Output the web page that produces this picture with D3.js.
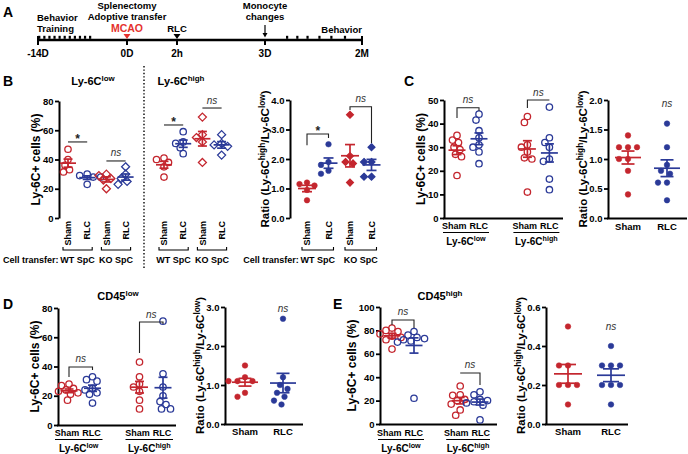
<!DOCTYPE html>
<html><head><meta charset="utf-8">
<script src="https://cdn.jsdelivr.net/npm/d3@7"></script>
<style>
body{margin:0;background:#fff}
svg text{font-family:"Liberation Sans",Arial,Helvetica,sans-serif}
</style></head><body>
<svg id="chart" width="688" height="454"></svg>
<script>
// ================= DATA =================
const RED = "#c4262e", BLUE = "#2b3a98", MCAO_RED = "#e5322d";

// Panel A timeline
const timelineLabels = ["-14D", "0D", "2h", "3D", "2M"];
const timelineDays   = [-14, 0, 0.083, 3, 60];
const trainingDays   = [-13.8, -13, -12.2, -11.4, -10.6, -9.8, -9, -8.2, -7.4, -6.6, -5.8];
const behaviorDays   = [16, 22, 28, 35, 42, 50];

// Panel B (Ly-6C low / high, % cells) — WT SpC and KO SpC transfer
const bCategories = ["Sham", "RLC", "Sham", "RLC", "Sham", "RLC", "Sham", "RLC"];
const bTransfer   = ["WT SpC", "KO SpC", "WT SpC", "KO SpC"];
const bLowWTSham  = [47, 40, 36, 33, 31.5];
const bLowWTRLC   = [30, 29, 28, 28, 23];
const bLowKOSham  = [30, 29, 27, 26, 20];
const bLowKORLC   = [35, 30, 27, 25, 23];
const bHighWTSham = [41, 40, 38, 35, 28];
const bHighWTRLC  = [59, 52, 51, 48, 44];
const bHighKOSham = [69, 57, 55, 52, 38];
const bHighKORLC  = [57, 51, 50, 49, 43];
const bRatioWTSham = [1.2, 1.15, 1.1, 0.95, 0.6];
const bRatioWTRLC  = [2.5, 1.9, 1.8, 1.6, 1.5];
const bRatioKOSham = [3.5, 2.1, 1.9, 1.85, 1.2];
const bRatioKORLC  = [2.4, 1.9, 1.9, 1.4, 1.4];
const bSig      = ["*", "ns", "*", "ns"];
const bRatioSig = ["*", "ns"];

// Panel C
const pairCategories = ["Sham", "RLC"];
const cLowSham   = [35, 33, 32, 30, 29, 27, 26, 18];
const cLowRLC    = [44, 41.5, 37, 34, 31, 30, 28, 23];
const cHighSham  = [43, 40.5, 31, 30, 28, 25.5, 25, 11];
const cHighRLC   = [47, 34, 32, 30, 25, 24, 16.5, 12];
const cRatioSham = [1.4, 1.2, 1.2, 1.2, 1.0, 1.0, 0.8, 0.4];
const cRatioRLC  = [1.6, 1.2, 0.9, 0.8, 0.75, 0.6, 0.6, 0.3];

// Panel D (CD45 low)
const dLowSham   = [28, 27, 25, 24, 23, 22, 21, 17];
const dLowRLC    = [33, 31, 30, 25, 24, 22, 21, 15];
const dHighSham  = [43, 33, 28, 26, 23, 17, 11];
const dHighRLC   = [71, 35, 26, 20, 16, 14, 11, 11];
const dRatioSham = [1.5, 1.2, 1.1, 1.1, 1.1, 0.8, 0.7];
const dRatioRLC  = [2.7, 1.2, 1.0, 0.9, 0.8, 0.7, 0.6, 0.5];

// Panel E (CD45 high)
const eLowSham   = [82, 80, 79, 77, 75, 74, 72, 64];
const eLowRLC    = [79, 76, 74, 73, 72, 71, 70, 22];
const eHighSham  = [32.5, 25, 24.5, 21, 20, 17, 12, 7.5];
const eHighRLC   = [27.5, 25, 21, 20, 19, 18, 16, 3.5];
const eRatioSham = [0.5, 0.3, 0.3, 0.2, 0.2, 0.2, 0.1];
const eRatioRLC  = [0.4, 0.3, 0.3, 0.3, 0.2, 0.2, 0.2, 0.1];

// Tick values
const pctTicks80   = [0, 20, 40, 60, 80];
const pctTicks50   = [0, 10, 20, 30, 40, 50];
const pctTicks100  = [0, 20, 40, 60, 80, 100];
const ratioTicks4  = [0, 1, 2, 3, 4];
const ratioTicks2  = [0, 0.5, 1, 1.5, 2];
const ratioTicks3  = [0, 1, 2, 3];
const ratioTicks06 = [0, 0.2, 0.4, 0.6];

// ================= DRAWING =================
const svg = d3.select("#chart");
const FONT = "Liberation Sans, Arial, sans-serif";

function txt(g, x, y, s, o = {}) {
  const t = g.append("text").attr("x", x).attr("y", y).text(s)
    .attr("font-size", o.size || 10).attr("font-weight", o.weight || "bold")
    .attr("text-anchor", o.anchor || "start").attr("fill", o.fill || "#000")
    .attr("font-family", o.family || FONT);
  if (o.italic) t.attr("font-style", "italic");
  return t;
}
// rich text: parts = [[string, isSup]]
function rich(g, x, y, parts, size, anchor, rotate) {
  const t = g.append("text").attr("font-size", size).attr("font-weight", "bold")
    .attr("text-anchor", anchor || "middle").attr("fill", "#000").attr("font-family", FONT);
  if (rotate) t.attr("transform", `translate(${x},${y}) rotate(-90)`);
  else t.attr("x", x).attr("y", y);
  let prevSup = false;
  parts.forEach(([s, sup]) => {
    const sp = t.append("tspan").text(s);
    if (sup) sp.attr("font-size", size * 0.72).attr("dy", -size * 0.38);
    else if (prevSup) sp.attr("dy", size * 0.38);
    prevSup = sup;
  });
  return t;
}
const ratioLabel = [["Ratio (Ly-6C", false], ["high", true], ["/Ly-6C", false], ["low", true], [")", false]];
const pctLabel = [["Ly-6C+ cells (%)", false]];

function swarm(vals, y, cx, minD, step) {
  const pts = vals.map(v => ({ v, py: y(v) })).sort((a, b) => b.v - a.v);
  const placed = [];
  pts.forEach(p => {
    for (let k = 0; k < 60; k++) {
      const off = k === 0 ? 0 : (k % 2 === 1 ? -1 : 1) * Math.ceil(k / 2) * step;
      const px = cx + off;
      if (placed.every(q => Math.hypot(q.px - px, q.py - p.py) >= minD)) { p.px = px; break; }
    }
    placed.push(p);
  });
  return placed;
}

function mark(g, x, y, s) {
  if (s.shape === "diamond") {
    const r = s.filled ? 3.4 : 4;
    g.append("path").attr("d", `M${x},${y - r}L${x + r},${y}L${x},${y + r}L${x - r},${y}Z`)
      .attr("fill", s.filled ? s.color : "none").attr("stroke", s.color).attr("stroke-width", 1.3);
  } else {
    g.append("circle").attr("cx", x).attr("cy", y).attr("r", s.filled ? 2.8 : 3.2)
      .attr("fill", s.filled ? s.color : "none").attr("stroke", s.color).attr("stroke-width", s.filled ? 0.5 : 1.3);
  }
}

function panel(cfg) {
  const g = svg.append("g");
  const y = d3.scaleLinear().domain(cfg.domain).range(cfg.yRange);
  const xs = d3.scaleLinear().domain([0, 1]).range([cfg.firstX, cfg.firstX + cfg.unit]);
  const gx = i => xs(cfg.slots[i]);
  const ax = g.append("g").attr("transform", `translate(${cfg.axisX},0)`)
    .call(d3.axisLeft(y).tickValues(cfg.ticks).tickFormat(cfg.fmt).tickSize(4).tickSizeOuter(0));
  ax.select(".domain").attr("stroke", "#000").attr("stroke-width", 2);
  ax.selectAll(".tick line").attr("stroke", "#000").attr("stroke-width", 1.8);
  ax.selectAll(".tick text").attr("font-size", 9.5).attr("font-weight", "bold")
    .attr("font-family", FONT).attr("fill", "#000").attr("x", -5.5);
  if (cfg.baselineTo) {
    g.append("line").attr("x1", cfg.axisX - 1).attr("x2", cfg.baselineTo)
      .attr("y1", y(cfg.domain[0]) + 0.5).attr("y2", y(cfg.domain[0]) + 0.5)
      .attr("stroke", "#000").attr("stroke-width", 2);
  }
  cfg.series.forEach((s, i) => {
    const cx = gx(i);
    const pts = swarm(s.values, y, cx, cfg.minD, 1.5);
    pts.forEach(p => mark(g, p.px, p.py, s));
    const m = d3.mean(s.values), se = d3.deviation(s.values) / Math.sqrt(s.values.length);
    const lw = 1.7;
    g.append("line").attr("x1", cx - cfg.meanHalf).attr("x2", cx + cfg.meanHalf)
      .attr("y1", y(m)).attr("y2", y(m)).attr("stroke", s.color).attr("stroke-width", lw);
    g.append("line").attr("x1", cx).attr("x2", cx).attr("y1", y(m - se)).attr("y2", y(m + se))
      .attr("stroke", s.color).attr("stroke-width", lw);
    [m - se, m + se].forEach(v => g.append("line").attr("x1", cx - cfg.semHalf).attr("x2", cx + cfg.semHalf)
      .attr("y1", y(v)).attr("y2", y(v)).attr("stroke", s.color).attr("stroke-width", lw));
  });
  (cfg.brackets || []).forEach(b => {
    const x1 = gx(b.from), x2 = gx(b.to), yy = y(b.at);
    const path = `M${x1},${y(b.leftTo)}V${yy}H${x2}V${y(b.rightTo)}`;
    g.append("path").attr("d", path).attr("fill", "none").attr("stroke", "#222").attr("stroke-width", 1.1);
    const mx = (x1 + x2) / 2;
    if (b.label === "*") txt(g, mx, yy + 1, "*", { size: 12, anchor: "middle", fill: "#222" });
    else txt(g, mx, yy - 4.5, b.label, { size: 10, anchor: "middle", italic: true, weight: "normal", fill: "#333" });
  });
  (cfg.notes || []).forEach(n => {
    txt(g, gx(n.at), y(n.v), n.label, { size: 10, anchor: "middle", italic: true, weight: "normal", fill: "#333" });
  });
  const cy = (cfg.yRange[0] + cfg.yRange[1]) / 2;
  rich(g, cfg.axisX - cfg.titleGap, cy, cfg.title, cfg.title === ratioLabel ? 11.5 : 12, "middle", true);
  cfg.gx = gx; cfg.y = y; cfg.g = g;
  return cfg;
}

// ---------- Panel A: timeline ----------
(function () {
  const g = svg.append("g");
  const tl = d3.scaleLinear().domain(timelineDays).range([38, 127, 177, 265, 362]);
  const ly = 40;
  const NARROW = "Liberation Sans Narrow, Liberation Sans, Arial, sans-serif";
  txt(g, 3, 17, "A", { size: 14 });
  g.append("line").attr("x1", tl(-14)).attr("x2", tl(60)).attr("y1", ly).attr("y2", ly)
    .attr("stroke", "#000").attr("stroke-width", 2.6);
  timelineDays.forEach((d, i) => {
    const end = i === 0 || i === timelineDays.length - 1;
    g.append("line").attr("x1", tl(d)).attr("x2", tl(d)).attr("y1", end ? ly - 4 : ly).attr("y2", ly + 5)
      .attr("stroke", "#000").attr("stroke-width", 2);
    txt(g, tl(d), 57, timelineLabels[i], { size: 10, anchor: "middle", family: NARROW });
  });
  trainingDays.concat(behaviorDays).forEach(d => {
    g.append("rect").attr("x", tl(d) - 1.1).attr("y", ly - 4.2).attr("width", 2.2).attr("height", 3).attr("fill", "#000");
  });
  txt(g, 37, 21, "Behavior", { size: 9.5, family: NARROW });
  txt(g, 37, 32, "Training", { size: 9.5, family: NARROW });
  txt(g, tl(0), 9, "Splenectomy", { size: 9.5, anchor: "middle", family: NARROW });
  txt(g, tl(0), 19.5, "Adoptive transfer", { size: 9.5, anchor: "middle", family: NARROW });
  txt(g, tl(0), 32, "MCAO", { size: 10.5, anchor: "middle", fill: MCAO_RED, family: NARROW });
  g.append("path").attr("d", `M${tl(0) - 3.5},${34}L${tl(0) + 3.5},${34}L${tl(0)},${39}Z`).attr("fill", MCAO_RED);
  txt(g, tl(0.083), 32, "RLC", { size: 9.5, anchor: "middle", family: NARROW });
  g.append("path").attr("d", `M${tl(0.083) - 3.5},${34}L${tl(0.083) + 3.5},${34}L${tl(0.083)},${39}Z`).attr("fill", "#000");
  txt(g, tl(3), 9, "Monocyte", { size: 9.5, anchor: "middle", family: NARROW });
  txt(g, tl(3), 19.5, "changes", { size: 9.5, anchor: "middle", family: NARROW });
  g.append("line").attr("x1", tl(3)).attr("x2", tl(3)).attr("y1", 25).attr("y2", 34).attr("stroke", "#000").attr("stroke-width", 1.2);
  g.append("path").attr("d", `M${tl(3) - 2.5},${33}L${tl(3) + 2.5},${33}L${tl(3)},${37.5}Z`).attr("fill", "#000");
  txt(g, tl(60), 33, "Behavior", { size: 9.5, anchor: "end", family: NARROW });
})();

// ---------- Panel B ----------
const bLeft = panel({
  axisX: 59, domain: [0, 80], yRange: [218, 101], ticks: pctTicks80, fmt: d3.format("d"),
  title: pctLabel, titleGap: 19,
  firstX: 68, unit: 19.2, slots: [0, 1, 2, 3, 5, 6, 7, 8], minD: 6.2, meanHalf: 8, semHalf: 4.5,
  series: [
    { values: bLowWTSham, color: RED, shape: "circle" },
    { values: bLowWTRLC, color: BLUE, shape: "circle" },
    { values: bLowKOSham, color: RED, shape: "diamond" },
    { values: bLowKORLC, color: BLUE, shape: "diamond" },
    { values: bHighWTSham, color: RED, shape: "circle" },
    { values: bHighWTRLC, color: BLUE, shape: "circle" },
    { values: bHighKOSham, color: RED, shape: "diamond" },
    { values: bHighKORLC, color: BLUE, shape: "diamond" }
  ],
  brackets: [
    { from: 0, to: 1, at: 52, leftTo: 52, rightTo: 52, label: bSig[0] },
    { from: 2, to: 3, at: 39, leftTo: 39, rightTo: 39, label: bSig[1] },
    { from: 4, to: 5, at: 63.6, leftTo: 63.6, rightTo: 63.6, label: bSig[2] },
    { from: 6, to: 7, at: 75.2, leftTo: 75.2, rightTo: 75.2, label: bSig[3] }
  ]
});
const bRatio = panel({
  axisX: 290, domain: [0, 4], yRange: [218, 100], ticks: ratioTicks4, fmt: d3.format(".1f"),
  title: ratioLabel, titleGap: 21,
  firstX: 307, unit: 21.5, slots: [0, 1, 2, 3], minD: 7.2, meanHalf: 9, semHalf: 5,
  series: [
    { values: bRatioWTSham, color: RED, shape: "circle", filled: true },
    { values: bRatioWTRLC, color: BLUE, shape: "circle", filled: true },
    { values: bRatioKOSham, color: RED, shape: "diamond", filled: true },
    { values: bRatioKORLC, color: BLUE, shape: "diamond", filled: true }
  ],
  brackets: [
    { from: 0, to: 1, at: 2.85, leftTo: 2.47, rightTo: 2.71, label: bRatioSig[0] },
    { from: 2, to: 3, at: 3.77, leftTo: 3.66, rightTo: 2.54, label: bRatioSig[1] }
  ]
});
(function () {
  const g = svg.append("g");
  txt(g, 3, 86, "B", { size: 14 });
  rich(g, 93, 85, [["Ly-6C", false], ["low", true]], 11, "middle");
  rich(g, 181, 85, [["Ly-6C", false], ["high", true]], 11, "middle");
  g.append("line").attr("x1", 144).attr("x2", 144).attr("y1", 66).attr("y2", 270)
    .attr("stroke", "#000").attr("stroke-width", 1.4).attr("stroke-dasharray", "1.4,2");
  [[bLeft, bCategories], [bRatio, bCategories.slice(0, 4)]].forEach(([p, cats]) => {
    cats.forEach((c, i) => {
      g.append("text").attr("transform", `translate(${p.gx(i) + 3.2},221) rotate(-90)`)
        .attr("text-anchor", "end").attr("font-size", 9).attr("font-weight", "bold")
        .attr("font-family", FONT).text(c);
    });
    const npairs = cats.length / 2;
    for (let k = 0; k < npairs; k++) {
      const x1 = p.gx(2 * k) - 5, x2 = p.gx(2 * k + 1) + 5, yy = 250;
      g.append("path").attr("d", `M${x1},${yy - 3}V${yy}H${x2}V${yy - 3}`).attr("fill", "none")
        .attr("stroke", "#000").attr("stroke-width", 1.1);
      txt(g, (x1 + x2) / 2, 263, bTransfer[k], { size: 9, anchor: "middle" });
    }
    txt(g, (p.gx(0) + p.gx(1)) / 2 - 19, 263, "Cell transfer:", { size: 9, anchor: "end" });
  });
})();

// ---------- Panel C ----------
const cLeft = panel({
  axisX: 444, domain: [0, 50], yRange: [218, 100], ticks: pctTicks50, fmt: d3.format("d"),
  title: pctLabel, titleGap: 19,
  firstX: 457, unit: 22, slots: [0, 1, 3.2, 4.2], minD: 6.2, meanHalf: 8.5, semHalf: 4.5, baselineTo: 563,
  series: [
    { values: cLowSham, color: RED }, { values: cLowRLC, color: BLUE },
    { values: cHighSham, color: RED }, { values: cHighRLC, color: BLUE }
  ],
  brackets: [
    { from: 0, to: 1, at: 46.7, leftTo: 42.4, rightTo: 45.3, label: "ns" },
    { from: 2, to: 3, at: 50, leftTo: 46.6, rightTo: 50, label: "ns" }
  ]
});
const cRatio = panel({
  axisX: 608, domain: [0, 2], yRange: [218, 100], ticks: ratioTicks2, fmt: d3.format(".1f"),
  title: ratioLabel, titleGap: 21,
  firstX: 628, unit: 39, slots: [0, 1], minD: 8.3, meanHalf: 13, semHalf: 6.5, baselineTo: 687,
  series: [
    { values: cRatioSham, color: RED, filled: true }, { values: cRatioRLC, color: BLUE, filled: true }
  ],
  notes: [{ at: 1, v: 1.88, label: "ns" }]
});

// ---------- Panel D ----------
const dLeft = panel({
  axisX: 58, domain: [0, 80], yRange: [425, 308], ticks: pctTicks80, fmt: d3.format("d"),
  title: pctLabel, titleGap: 19,
  firstX: 69, unit: 23.5, slots: [0, 1, 3, 4], minD: 6.2, meanHalf: 8.5, semHalf: 4.5, baselineTo: 176,
  series: [
    { values: dLowSham, color: RED }, { values: dLowRLC, color: BLUE },
    { values: dHighSham, color: RED }, { values: dHighRLC, color: BLUE }
  ],
  brackets: [
    { from: 0, to: 1, at: 39.7, leftTo: 32.8, rightTo: 37.6, label: "ns" },
    { from: 2, to: 3, at: 70.4, leftTo: 49.2, rightTo: 69, label: "ns" }
  ]
});
const dRatio = panel({
  axisX: 225, domain: [0, 3], yRange: [424, 307], ticks: ratioTicks3, fmt: d3.format(".1f"),
  title: ratioLabel, titleGap: 21,
  firstX: 245, unit: 38, slots: [0, 1], minD: 8.3, meanHalf: 13, semHalf: 6.5, baselineTo: 303,
  series: [
    { values: dRatioSham, color: RED, filled: true }, { values: dRatioRLC, color: BLUE, filled: true }
  ],
  notes: [{ at: 1, v: 2.88, label: "ns" }]
});

// ---------- Panel E ----------
const eLeft = panel({
  axisX: 380, domain: [0, 100], yRange: [424, 307], ticks: pctTicks100, fmt: d3.format("d"),
  title: pctLabel, titleGap: 24,
  firstX: 392, unit: 22, slots: [0, 1, 3.1, 4], minD: 6.2, meanHalf: 8.5, semHalf: 4.5, baselineTo: 497,
  series: [
    { values: eLowSham, color: RED }, { values: eLowRLC, color: BLUE },
    { values: eHighSham, color: RED }, { values: eHighRLC, color: BLUE }
  ],
  brackets: [
    { from: 0, to: 1, at: 88.9, leftTo: 84.6, rightTo: 82, label: "ns" },
    { from: 2, to: 3, at: 43.6, leftTo: 43.6, rightTo: 33.3, label: "ns" }
  ]
});
const eRatio = panel({
  axisX: 546, domain: [0, 0.6], yRange: [424, 307], ticks: ratioTicks06, fmt: d3.format(".1f"),
  title: ratioLabel, titleGap: 21,
  firstX: 568, unit: 43, slots: [0, 1], minD: 8.8, meanHalf: 14, semHalf: 8, baselineTo: 628,
  series: [
    { values: eRatioSham, color: RED, filled: true }, { values: eRatioRLC, color: BLUE, filled: true }
  ],
  notes: [{ at: 1, v: 0.48, label: "ns" }]
});

// ---------- labels for C, D, E ----------
(function () {
  const g = svg.append("g");
  txt(g, 404, 86, "C", { size: 14 });
  txt(g, 3, 309, "D", { size: 14 });
  txt(g, 333, 309, "E", { size: 14 });
  rich(g, 118, 300, [["CD45", false], ["low", true]], 11, "middle");
  rich(g, 440, 300, [["CD45", false], ["high", true]], 11, "middle");

  const subsets = [["low", true], ["high", true]];
  [[cLeft, 229], [dLeft, 436], [eLeft, 436]].forEach(([p, by]) => {
    for (let k = 0; k < 2; k++) {
      const a = p.gx(2 * k), b = p.gx(2 * k + 1), mid = (a + b) / 2;
      txt(g, mid - 1.5, by, pairCategories[0], { size: 9, anchor: "end" });
      txt(g, mid + 1.5, by, pairCategories[1], { size: 9, anchor: "start" });
      g.append("line").attr("x1", a - 14).attr("x2", b + 10).attr("y1", by + 3.5).attr("y2", by + 3.5)
        .attr("stroke", "#000").attr("stroke-width", 1.1);
      rich(g, mid - 2, by + 16, [["Ly-6C", false], subsets[k]], 10, "middle");
    }
  });
  [[cRatio, 230], [dRatio, 435], [eRatio, 435]].forEach(([p, by]) => {
    pairCategories.forEach((c, i) => txt(g, p.gx(i), by, c, { size: 9.5, anchor: "middle" }));
  });
})();
</script>
</body></html>
